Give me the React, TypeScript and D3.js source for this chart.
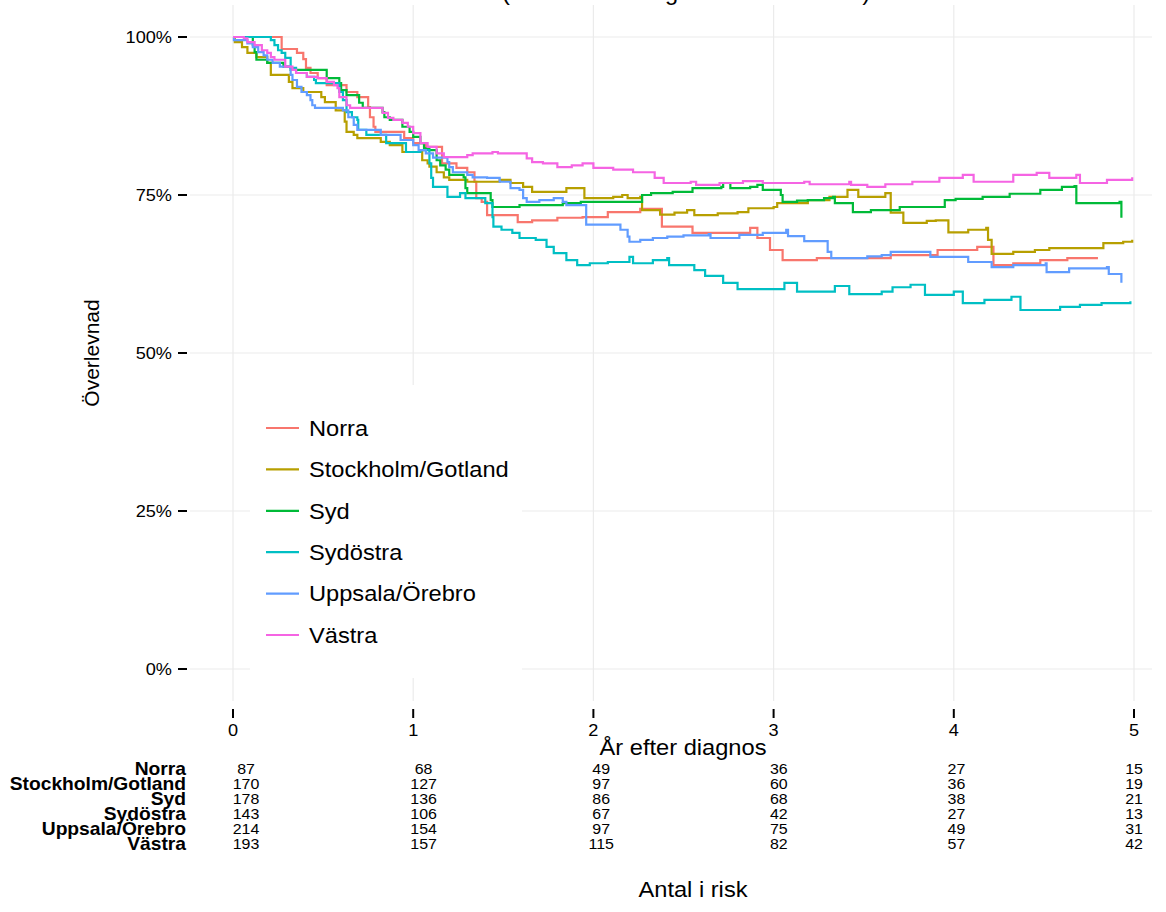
import React from 'react';
import * as d3 from 'd3';

const W = 1166;
const H = 912;
const FONT = "'Liberation Sans', Arial, Helvetica, sans-serif";

const groups = ['Norra', 'Stockholm/Gotland', 'Syd', 'Sydöstra', 'Uppsala/Örebro', 'Västra'];
const colors = ['#F8766D', '#B79F00', '#00BA38', '#00BFC4', '#619CFF', '#F564E3'];

// [time (years), survival]
const norra: [number, number][] = [[0,1.0],[0.27,0.981],[0.355,0.975],[0.39,0.965],[0.405,0.951],[0.43,0.943],[0.47,0.935],[0.52,0.924],[0.63,0.913],[0.69,0.905],[0.75,0.889],[0.76,0.873],[0.78,0.858],[0.79,0.85],[0.95,0.84],[1.0,0.832],[1.07,0.826],[1.16,0.8],[1.24,0.793],[1.3,0.786],[1.34,0.771],[1.35,0.745],[1.38,0.739],[1.41,0.718],[1.58,0.707],[1.66,0.71],[1.8,0.714],[1.94,0.715],[2.08,0.723],[2.26,0.728],[2.38,0.7],[2.55,0.69],[2.87,0.698],[2.91,0.682],[2.98,0.663],[3.05,0.647],[3.24,0.65],[3.65,0.655],[3.91,0.663],[4.13,0.668],[4.22,0.639],[4.33,0.642],[4.48,0.647],[4.63,0.65],[4.8,0.65]];
const stockholm: [number, number][] = [[0,1.0],[0.01,0.992],[0.05,0.984],[0.08,0.975],[0.13,0.968],[0.19,0.959],[0.21,0.94],[0.31,0.929],[0.33,0.919],[0.39,0.913],[0.49,0.905],[0.51,0.897],[0.57,0.884],[0.62,0.866],[0.63,0.85],[0.67,0.845],[0.69,0.84],[0.82,0.834],[0.87,0.829],[0.94,0.818],[1.05,0.805],[1.08,0.8],[1.09,0.795],[1.13,0.786],[1.17,0.778],[1.2,0.774],[1.3,0.771],[1.48,0.774],[1.54,0.769],[1.61,0.763],[1.66,0.755],[1.85,0.761],[1.95,0.745],[2.11,0.747],[2.16,0.75],[2.19,0.745],[2.26,0.747],[2.27,0.726],[2.37,0.719],[2.45,0.722],[2.52,0.726],[2.56,0.718],[2.69,0.721],[2.8,0.723],[2.86,0.729],[3.0,0.731],[3.02,0.737],[3.19,0.742],[3.31,0.747],[3.41,0.758],[3.47,0.747],[3.62,0.753],[3.65,0.722],[3.72,0.706],[3.85,0.709],[3.9,0.71],[3.97,0.691],[4.08,0.695],[4.18,0.698],[4.19,0.679],[4.21,0.657],[4.33,0.66],[4.45,0.663],[4.53,0.666],[4.83,0.674],[4.94,0.676],[4.99,0.679]];
const syd: [number, number][] = [[0,1.0],[0.11,0.987],[0.12,0.976],[0.13,0.964],[0.19,0.959],[0.28,0.953],[0.32,0.948],[0.52,0.935],[0.59,0.927],[0.6,0.916],[0.63,0.908],[0.7,0.896],[0.72,0.888],[0.83,0.881],[0.84,0.873],[0.87,0.869],[0.94,0.858],[0.98,0.85],[1.0,0.842],[1.04,0.832],[1.06,0.824],[1.09,0.821],[1.13,0.805],[1.15,0.797],[1.18,0.79],[1.2,0.782],[1.28,0.778],[1.29,0.761],[1.3,0.753],[1.43,0.742],[1.44,0.731],[1.59,0.734],[1.83,0.737],[1.93,0.739],[2.27,0.75],[2.32,0.753],[2.44,0.755],[2.55,0.761],[2.71,0.763],[2.72,0.769],[2.76,0.761],[2.87,0.763],[2.91,0.766],[2.94,0.758],[3.04,0.75],[3.05,0.739],[3.13,0.741],[3.19,0.742],[3.28,0.745],[3.33,0.747],[3.34,0.737],[3.44,0.723],[3.54,0.726],[3.7,0.731],[3.95,0.742],[4.01,0.744],[4.16,0.747],[4.31,0.752],[4.48,0.758],[4.6,0.763],[4.67,0.764],[4.68,0.737],[4.92,0.739],[4.93,0.714]];
const sydostra: [number, number][] = [[0,1.0],[0.21,0.995],[0.23,0.987],[0.25,0.979],[0.27,0.975],[0.29,0.967],[0.32,0.951],[0.35,0.943],[0.41,0.937],[0.45,0.932],[0.46,0.927],[0.59,0.913],[0.61,0.9],[0.63,0.881],[0.66,0.873],[0.69,0.869],[0.695,0.853],[0.74,0.845],[0.85,0.832],[0.96,0.818],[1.04,0.821],[1.09,0.8],[1.1,0.777],[1.11,0.763],[1.19,0.747],[1.26,0.753],[1.29,0.745],[1.4,0.737],[1.44,0.715],[1.445,0.7],[1.49,0.695],[1.55,0.69],[1.59,0.682],[1.68,0.679],[1.74,0.668],[1.78,0.658],[1.85,0.647],[1.91,0.639],[1.98,0.642],[2.08,0.644],[2.2,0.652],[2.22,0.642],[2.33,0.647],[2.41,0.65],[2.42,0.639],[2.56,0.631],[2.62,0.622],[2.72,0.611],[2.8,0.601],[3.06,0.611],[3.13,0.597],[3.34,0.606],[3.42,0.593],[3.6,0.597],[3.66,0.604],[3.76,0.608],[3.84,0.592],[4.0,0.597],[4.05,0.579],[4.17,0.584],[4.32,0.589],[4.37,0.568],[4.59,0.573],[4.7,0.576],[4.82,0.579],[4.98,0.582]];
const uppsala: [number, number][] = [[0,1.0],[0.005,0.995],[0.08,0.99],[0.11,0.984],[0.14,0.976],[0.17,0.971],[0.19,0.964],[0.22,0.959],[0.26,0.953],[0.32,0.94],[0.33,0.932],[0.355,0.921],[0.38,0.913],[0.41,0.908],[0.43,0.9],[0.44,0.892],[0.455,0.888],[0.61,0.884],[0.64,0.873],[0.67,0.861],[0.69,0.853],[0.82,0.845],[0.93,0.837],[1.0,0.829],[1.03,0.821],[1.07,0.816],[1.11,0.809],[1.19,0.802],[1.2,0.794],[1.22,0.786],[1.3,0.782],[1.33,0.778],[1.41,0.777],[1.48,0.771],[1.54,0.761],[1.59,0.758],[1.61,0.745],[1.63,0.739],[1.7,0.742],[1.78,0.745],[1.83,0.739],[1.85,0.734],[1.96,0.703],[2.15,0.695],[2.19,0.684],[2.2,0.676],[2.26,0.679],[2.33,0.682],[2.41,0.684],[2.5,0.686],[2.64,0.688],[2.65,0.682],[2.81,0.687],[2.94,0.69],[3.07,0.695],[3.08,0.685],[3.17,0.677],[3.3,0.66],[3.32,0.65],[3.52,0.653],[3.6,0.655],[3.65,0.66],[3.87,0.652],[4.08,0.644],[4.21,0.636],[4.33,0.639],[4.51,0.642],[4.515,0.628],[4.64,0.634],[4.85,0.636],[4.86,0.625],[4.93,0.611]];
const vastra: [number, number][] = [[0,1.0],[0.06,0.998],[0.08,0.992],[0.12,0.987],[0.16,0.979],[0.19,0.975],[0.21,0.968],[0.23,0.964],[0.29,0.953],[0.33,0.948],[0.35,0.943],[0.41,0.937],[0.47,0.935],[0.52,0.929],[0.56,0.924],[0.58,0.919],[0.59,0.905],[0.63,0.892],[0.65,0.888],[0.83,0.88],[0.86,0.872],[0.89,0.869],[0.94,0.864],[0.97,0.858],[1.0,0.848],[1.04,0.832],[1.08,0.826],[1.13,0.816],[1.17,0.81],[1.3,0.813],[1.33,0.816],[1.44,0.818],[1.47,0.816],[1.63,0.808],[1.66,0.802],[1.72,0.8],[1.8,0.794],[1.88,0.797],[1.94,0.8],[2.0,0.793],[2.11,0.79],[2.22,0.786],[2.34,0.777],[2.39,0.769],[2.54,0.771],[2.57,0.766],[2.7,0.769],[2.83,0.772],[2.94,0.769],[3.17,0.771],[3.2,0.767],[3.42,0.771],[3.43,0.766],[3.52,0.763],[3.62,0.767],[3.77,0.771],[3.92,0.777],[4.05,0.782],[4.11,0.771],[4.33,0.782],[4.46,0.785],[4.53,0.777],[4.68,0.782],[4.7,0.769],[4.85,0.774],[4.99,0.778]];

const curves = [norra, stockholm, syd, sydostra, uppsala, vastra];

const xTicks = [0, 1, 2, 3, 4, 5];
const yTicks = [0, 0.25, 0.5, 0.75, 1];

const riskTimes = [0, 1, 2, 3, 4, 5];
const riskNorra = [87, 68, 49, 36, 27, 15];
const riskStockholm = [170, 127, 97, 60, 36, 19];
const riskSyd = [178, 136, 86, 68, 38, 21];
const riskSydostra = [143, 106, 67, 42, 27, 13];
const riskUppsala = [214, 154, 97, 75, 49, 31];
const riskVastra = [193, 157, 115, 82, 57, 42];
const riskRows = [riskNorra, riskStockholm, riskSyd, riskSydostra, riskUppsala, riskVastra];

const titleText = '(Alla stadier diagnosår 2008–2013)';
const xTitle = 'År efter diagnos';
const yTitle = 'Överlevnad';
const riskTitle = 'Antal i risk';

const SX = 1.1;

function T(props: { x: number; y: number; anchor?: string; size: number; weight?: string | number; children: React.ReactNode; rotate?: number }) {
  const { x, y, anchor = 'start', size, weight = 'normal', children, rotate } = props;
  const tr = rotate ? `translate(${x},${y}) rotate(${rotate})` : `translate(${x},${y}) scale(${SX},1)`;
  return (
    <text transform={tr} textAnchor={anchor} fontSize={size} fontWeight={weight} fontFamily={FONT} fill="#000">
      {children}
    </text>
  );
}

export default function App() {
  const x = d3.scaleLinear().domain([0, 5]).range([233, 1134]);
  const y = d3.scaleLinear().domain([0, 1]).range([669, 37]);
  const xRisk = d3.scaleLinear().domain([0, 5]).range([246, 1134]);
  const line = d3.line<[number, number]>().x(d => x(d[0])).y(d => y(d[1])).curve(d3.curveStepAfter);

  const panel = { left: 190, right: 1152, top: 5, bottom: 701 };
  const legend = { x: 250, y: 385, w: 272, h: 293, row0: 428, step: 41.4 };
  const riskY0 = 774;
  const riskStep = 15;

  return (
    <svg width={W} height={H} style={{ position: 'absolute', left: 0, top: 0, background: '#fff' }}>
      <rect x={0} y={0} width={W} height={H} fill="#fff" />
      <T x={686} y={0} anchor="middle" size={21.5}>{titleText}</T>
      {xTicks.map(t => (
        <line key={'gx' + t} x1={x(t)} x2={x(t)} y1={panel.top} y2={panel.bottom} stroke="#EBEBEB" strokeWidth={1.2} />
      ))}
      {yTicks.map(t => (
        <line key={'gy' + t} x1={panel.left} x2={panel.right} y1={y(t)} y2={y(t)} stroke="#EBEBEB" strokeWidth={1.2} />
      ))}
      {curves.map((c, i) => (
        <path key={groups[i]} d={line(c) || ''} fill="none" stroke={colors[i]} strokeWidth={2.2} />
      ))}
      <rect x={legend.x} y={legend.y} width={legend.w} height={legend.h} fill="#fff" />
      {groups.map((g, i) => {
        const cy = legend.row0 + i * legend.step;
        return (
          <g key={'lg' + g}>
            <line x1={266} x2={299} y1={cy} y2={cy} stroke={colors[i]} strokeWidth={2.2} />
            <T x={309} y={cy + 7.7} size={21.5}>{g}</T>
          </g>
        );
      })}
      {yTicks.map(t => (
        <g key={'yt' + t}>
          <line x1={178} x2={187} y1={y(t)} y2={y(t)} stroke="#000" strokeWidth={2} />
          <T x={172} y={y(t) + 6} anchor="end" size={16.5}>{`${Math.round(t * 100)}%`}</T>
        </g>
      ))}
      <T x={99} y={353} anchor="middle" size={21} rotate={-90}>{yTitle}</T>
      {xTicks.map(t => (
        <g key={'xt' + t}>
          <line x1={x(t)} x2={x(t)} y1={709} y2={718} stroke="#000" strokeWidth={2} />
          <T x={x(t)} y={736} anchor="middle" size={16.5}>{String(t)}</T>
        </g>
      ))}
      <T x={683} y={755} anchor="middle" size={21.5}>{xTitle}</T>
      {groups.map((g, i) => (
        <T key={'rl' + g} x={186} y={riskY0 + 1 + i * riskStep} anchor="end" size={17.5} weight="bold">{g}</T>
      ))}
      {riskRows.map((row, i) =>
        row.map((v, j) => (
          <T key={'rv' + i + '-' + j} x={xRisk(riskTimes[j])} y={riskY0 + i * riskStep} anchor="middle" size={14.5}>{String(v)}</T>
        ))
      )}
      <T x={693} y={897} anchor="middle" size={21.5}>{riskTitle}</T>
    </svg>
  );
}
